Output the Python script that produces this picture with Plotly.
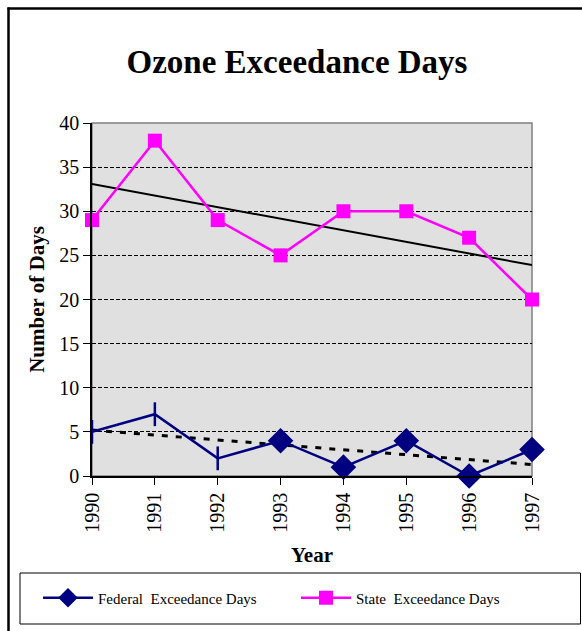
import plotly.graph_objects as go

years = [1990, 1991, 1992, 1993, 1994, 1995, 1996, 1997]
federal = [5, 7, 2, 4, 1, 4, 0, 3]
state = [29, 38, 29, 25, 30, 30, 27, 20]
federal_symbols = ["line-ns", "line-ns", "line-ns", "diamond", "diamond", "diamond", "diamond", "diamond"]
trend_years = [1990, 1997]
state_trend = [33.1, 23.9]
federal_trend = [5.2, 1.3]
y_ticks = [0, 5, 10, 15, 20, 25, 30, 35, 40]

FONT = "Liberation Serif, Times New Roman, serif"
NAVY = "#000080"
MAG = "#FF00FF"

# plot area in page pixels (body margin removed below)
L, R, T, B = 92, 532, 123, 476
W, H = 582, 631


def px_x(p):
    return (p - L) / (R - L)


def px_y(p):
    return (B - p) / (B - T)


fig = go.Figure()

fig.add_trace(go.Scatter(x=trend_years, y=state_trend, mode="lines",
                         line=dict(color="black", width=2), showlegend=False,
                         hoverinfo="skip"))
fig.add_trace(go.Scatter(x=trend_years, y=federal_trend, mode="lines",
                         line=dict(color="black", width=3, dash="6px,8px"),
                         showlegend=False, hoverinfo="skip"))

fig.add_trace(go.Scatter(x=years, y=federal, mode="lines+markers",
                         line=dict(color=NAVY, width=2.5),
                         marker=dict(symbol=federal_symbols, size=17, color=NAVY,
                                     line=dict(color=NAVY, width=2.5)),
                         showlegend=False, cliponaxis=False))
fig.add_trace(go.Scatter(x=[None], y=[None], mode="lines+markers",
                         name="Federal\u00a0 Exceedance Days",
                         line=dict(color=NAVY, width=2.5),
                         marker=dict(symbol="diamond", size=15, color=NAVY)))
fig.add_trace(go.Scatter(x=years, y=state, mode="lines+markers",
                         name="State\u00a0 Exceedance Days",
                         line=dict(color=MAG, width=2.5),
                         marker=dict(symbol="square", size=14, color=MAG),
                         cliponaxis=False))

shapes = [
    # outer chart border: left edge
    dict(type="line", xref="paper", yref="paper",
         x0=px_x(8.5), x1=px_x(8.5), y0=px_y(H + 5), y1=px_y(7.5),
         line=dict(color="black", width=2.5), layer="above"),
    # outer chart border: top edge
    dict(type="line", xref="paper", yref="paper",
         x0=px_x(7.5), x1=px_x(W + 5), y0=px_y(8.5), y1=px_y(8.5),
         line=dict(color="black", width=2.5), layer="above"),
    # plot area border
    dict(type="rect", xref="paper", yref="paper", x0=0, x1=1, y0=0, y1=1,
         line=dict(color="#808080", width=1.5), layer="below"),
    # legend box
    dict(type="rect", xref="paper", yref="paper",
         x0=px_x(20), x1=px_x(580.5), y0=px_y(624), y1=px_y(573),
         line=dict(color="black", width=1), layer="above"),
]

fig.update_layout(
    width=W, height=H,
    margin=dict(l=L, r=W - R, t=T, b=H - B),
    paper_bgcolor="white",
    plot_bgcolor="#E0E0E0",
    font=dict(family=FONT, color="black"),
    title=dict(text="<b>Ozone Exceedance Days</b>", font=dict(size=33, family=FONT),
               x=297 / W, xref="container", xanchor="center",
               y=1 - 61 / H, yref="container", yanchor="middle"),
    shapes=shapes,
    showlegend=True,
    legend=dict(orientation="h", x=px_x(38), y=px_y(598), xanchor="left", yanchor="middle",
                xref="paper", yref="paper",
                font=dict(size=15, family=FONT), bgcolor="rgba(0,0,0,0)",
                entrywidth=193, entrywidthmode="pixels", itemwidth=50),
)

fig.update_xaxes(range=[1990, 1997], tickmode="array", tickvals=years,
                 ticktext=[str(y) for y in years], tickangle=-90,
                 tickfont=dict(size=20, family=FONT),
                 ticks="outside", ticklen=7, tickcolor="black", tickwidth=1,
                 showline=True, linecolor="black", linewidth=1.5,
                 showgrid=False, zeroline=False,
                 title=dict(text="<b>Year</b>", font=dict(size=21, family=FONT), standoff=16))
fig.update_yaxes(range=[0, 40], tickmode="array", tickvals=y_ticks,
                 tickfont=dict(size=20, family=FONT),
                 ticks="outside", ticklen=7, tickcolor="black", tickwidth=1,
                 showline=True, linecolor="black", linewidth=1.5,
                 showgrid=True, gridcolor="black", gridwidth=1, griddash="4px,2px",
                 zeroline=False,
                 title=dict(text="<b>Number of Days</b>", font=dict(size=21, family=FONT), standoff=9))

fig.write_html("out.html",
               config={"displayModeBar": False},
               post_script="document.body.style.margin='0';"
                           "document.body.style.overflow='hidden';"
                           "document.documentElement.style.overflow='hidden';")
